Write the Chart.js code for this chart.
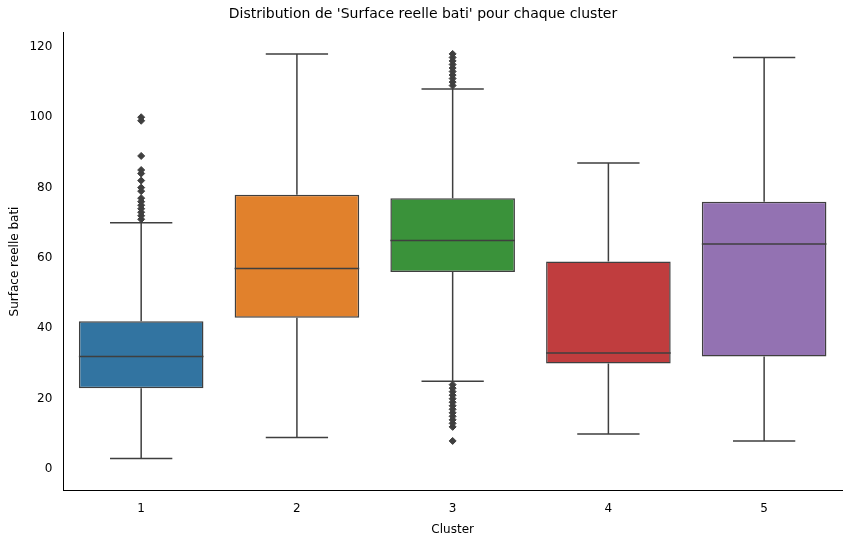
<!DOCTYPE html>
<html><head><meta charset="utf-8">
<script src="https://cdn.jsdelivr.net/npm/chart.js@4"></script>
<style>body{margin:0;background:#fff}#wrap{width:850px;height:545px}</style>
</head><body><div id="wrap"><canvas id="c"></canvas></div>
<script>
const clusters = ['1', '2', '3', '4', '5'];
const q1 = [23, 43, 56, 30, 32];
const q3 = [42, 78, 77, 59, 76];
const medians = [32, 57, 65, 33, 64];
const whiskLow = [3, 9, 25, 10, 8];
const whiskHigh = [70, 118, 108, 87, 117];
const outliers = [
  [71, 72, 73, 74, 75, 76, 77, 79, 80, 82, 84, 85, 89, 99, 100],
  [],
  [8, 12, 13, 14, 15, 16, 17, 18, 19, 20, 21, 22, 23, 24, 109, 110, 111, 112, 113, 114, 115, 116, 117, 118],
  [],
  []
];
const colors = ['#3274a1', '#e1812c', '#3a923a', '#c03d3e', '#9372b2'];
const edge = '#3f3f3f';

const outlierPoints = [];
outliers.forEach((arr, i) => arr.forEach(v => outlierPoints.push({x: clusters[i], y: v})));

const whiskers = {
  id: 'whiskers',
  beforeDatasetsDraw(chart) {
    const {ctx, scales: {x, y}} = chart;
    const meta = chart.getDatasetMeta(0);
    ctx.save();
    ctx.strokeStyle = edge; ctx.lineWidth = 1.5;
    clusters.forEach((c, i) => {
      const bar = meta.data[i];
      const cx = x.getPixelForValue(i);
      const hw = bar.width / 4;
      ctx.beginPath();
      ctx.moveTo(cx, y.getPixelForValue(q3[i])); ctx.lineTo(cx, y.getPixelForValue(whiskHigh[i]));
      ctx.moveTo(cx, y.getPixelForValue(q1[i])); ctx.lineTo(cx, y.getPixelForValue(whiskLow[i]));
      ctx.moveTo(cx - hw, y.getPixelForValue(whiskHigh[i])); ctx.lineTo(cx + hw, y.getPixelForValue(whiskHigh[i]));
      ctx.moveTo(cx - hw, y.getPixelForValue(whiskLow[i])); ctx.lineTo(cx + hw, y.getPixelForValue(whiskLow[i]));
      ctx.stroke();
    });
    ctx.restore();
  },
  afterDatasetsDraw(chart) {
    const {ctx, scales: {x, y}} = chart;
    const meta = chart.getDatasetMeta(0);
    ctx.save();
    ctx.strokeStyle = edge; ctx.lineWidth = 1.5;
    clusters.forEach((c, i) => {
      const bar = meta.data[i];
      const cx = x.getPixelForValue(i);
      const yy = y.getPixelForValue(medians[i]);
      ctx.beginPath();
      ctx.moveTo(cx - bar.width / 2, yy); ctx.lineTo(cx + bar.width / 2, yy);
      ctx.stroke();
    });
    ctx.restore();
  }
};

new Chart(document.getElementById('c'), {
  data: {
    labels: clusters,
    datasets: [{
      type: 'bar',
      data: clusters.map((c, i) => [q1[i], q3[i]]),
      backgroundColor: colors,
      borderColor: edge,
      borderWidth: 1.5,
      borderSkipped: false,
      barPercentage: 0.8,
      categoryPercentage: 1
    }, {
      type: 'line',
      data: outlierPoints,
      showLine: false,
      pointStyle: 'rectRot',
      pointRadius: 3.5,
      backgroundColor: edge,
      borderColor: edge
    }]
  },
  options: {
    responsive: true, maintainAspectRatio: false, animation: false,
    layout: {padding: {left: 4, right: 8, top: 4, bottom: 4}},
    plugins: {
      legend: {display: false}, tooltip: {enabled: false},
      title: {display: true, text: "Distribution de 'Surface reelle bati' pour chaque cluster",
        color: '#000', font: {family: 'DejaVu Sans', size: 14, weight: 'normal'}, padding: {top: 2, bottom: 10}}
    },
    scales: {
      x: {
        grid: {display: false, drawTicks: true, tickColor: '#000'},
        border: {color: '#000'},
        ticks: {color: '#000', font: {family: 'DejaVu Sans', size: 12}},
        title: {display: true, text: 'Cluster', color: '#000', font: {family: 'DejaVu Sans', size: 12}}
      },
      y: {
        min: -6, max: 124,
        afterBuildTicks: ax => { ax.ticks = [0, 20, 40, 60, 80, 100, 120].map(v => ({value: v})); },
        grid: {display: false, drawTicks: true, tickColor: '#000'},
        border: {color: '#000'},
        ticks: {color: '#000', font: {family: 'DejaVu Sans', size: 12}},
        title: {display: true, text: 'Surface reelle bati', color: '#000', font: {family: 'DejaVu Sans', size: 12}}
      }
    }
  },
  plugins: [whiskers]
});
</script></body></html>
